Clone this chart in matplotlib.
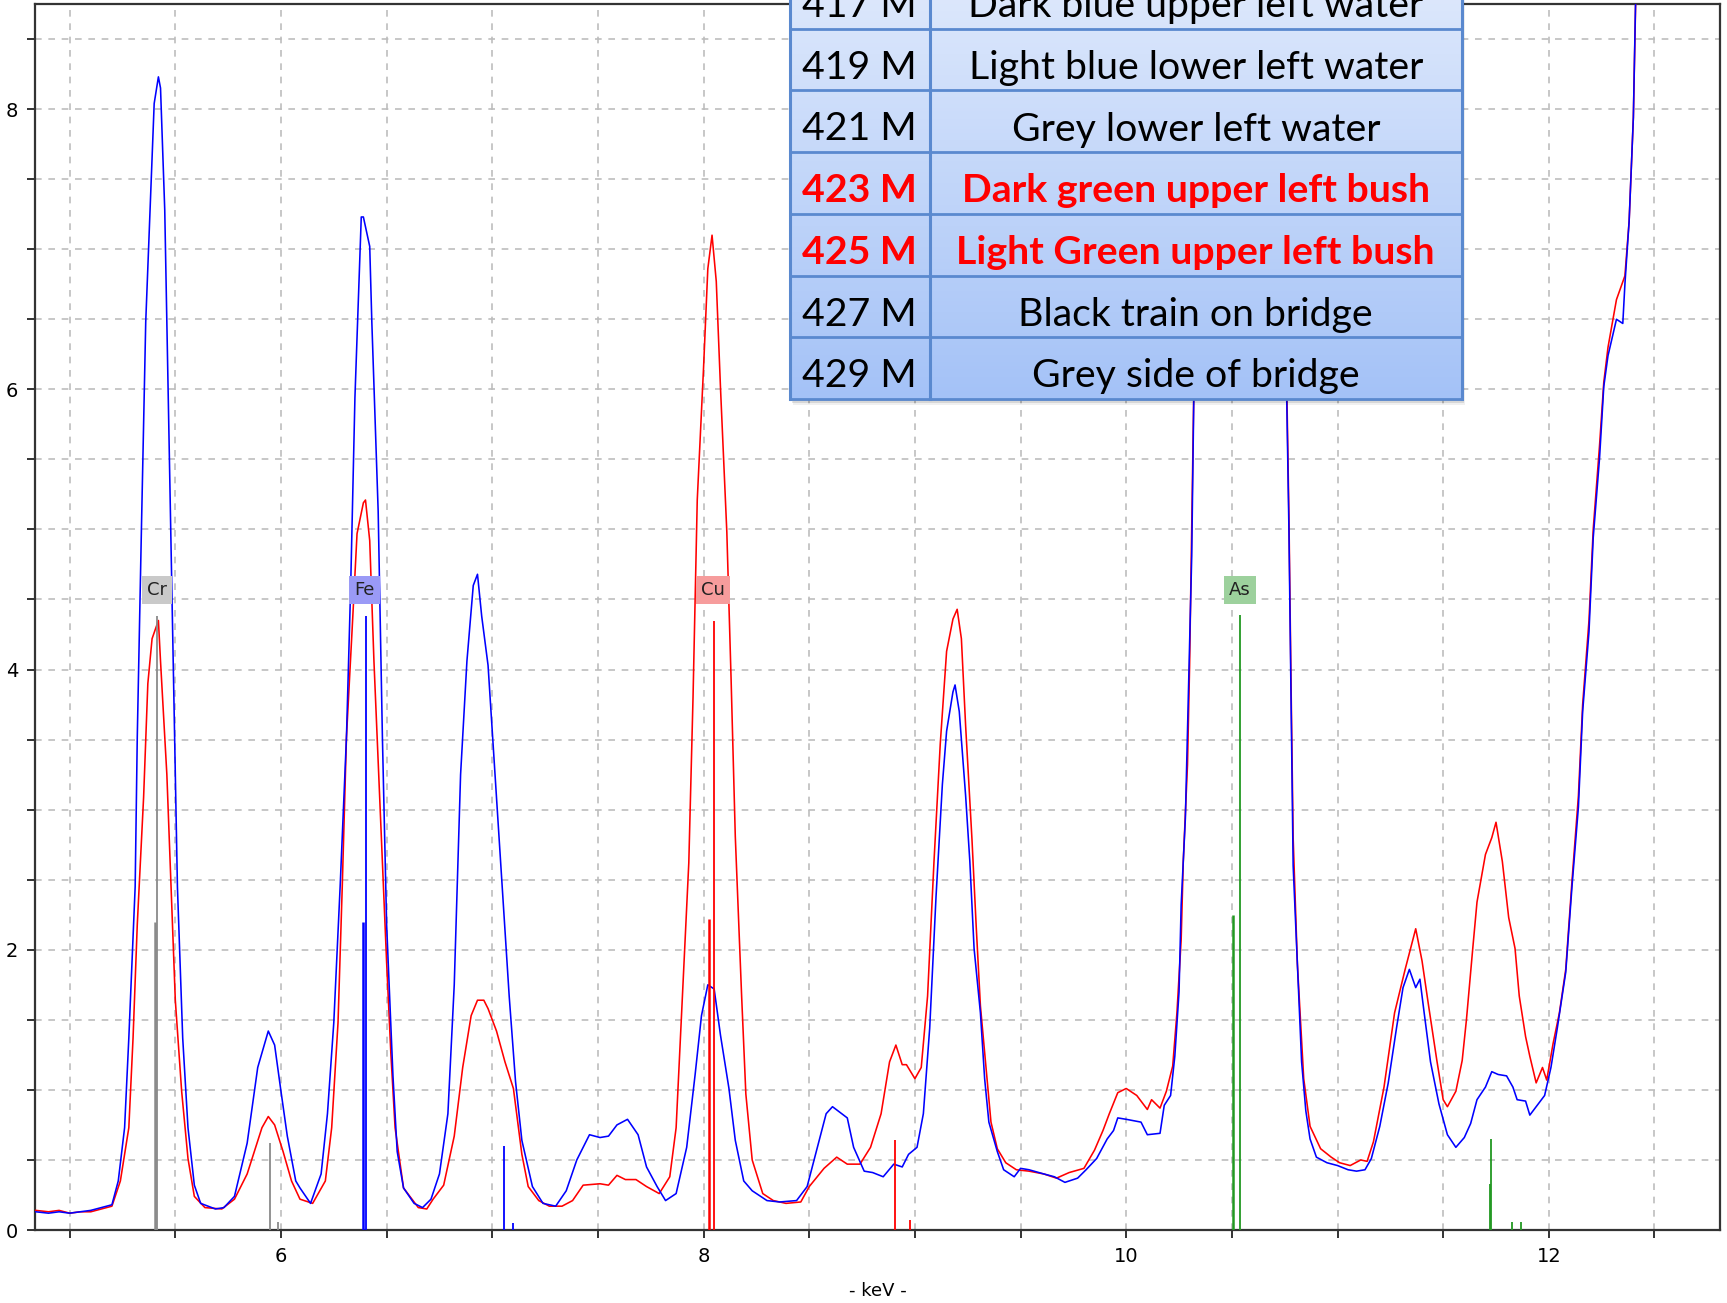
import matplotlib
matplotlib.use('Agg')
import matplotlib.pyplot as plt
import matplotlib.patches as mpatches
from matplotlib.ticker import MultipleLocator
import numpy as np

W, H, DPI = 1727, 1303, 100

# spectrum readings (keV, intensity)
blue_kev = [4.84, 4.90, 4.95, 5.00, 5.05, 5.10, 5.15, 5.20, 5.23, 5.26, 5.28, 5.31, 5.32, 5.34,
            5.36, 5.39, 5.40, 5.42, 5.43, 5.45, 5.47, 5.49, 5.51, 5.535, 5.56, 5.59, 5.62, 5.69,
            5.73, 5.78, 5.84, 5.89, 5.94, 5.97, 6.00, 6.03, 6.07, 6.09, 6.14, 6.19, 6.22, 6.25,
            6.28, 6.31, 6.33, 6.35, 6.38, 6.39, 6.42, 6.43, 6.46, 6.48, 6.50, 6.53, 6.55, 6.58,
            6.63, 6.67, 6.71, 6.75, 6.79, 6.82, 6.85, 6.88, 6.91, 6.93, 6.95, 6.98, 7.02, 7.05,
            7.08, 7.11, 7.14, 7.19, 7.24, 7.30, 7.35, 7.40, 7.46, 7.51, 7.55, 7.59, 7.64, 7.69,
            7.73, 7.78, 7.82, 7.87, 7.92, 7.96, 7.99, 8.02, 8.05, 8.08, 8.12, 8.15, 8.19, 8.23,
            8.30, 8.36, 8.44, 8.49, 8.53, 8.58, 8.61, 8.68, 8.71, 8.76, 8.80, 8.85, 8.90, 8.94,
            8.97, 9.01, 9.04, 9.07, 9.10, 9.13, 9.15, 9.18, 9.19, 9.21, 9.24, 9.26, 9.28, 9.31,
            9.33, 9.35, 9.39, 9.42, 9.47, 9.50, 9.54, 9.61, 9.66, 9.71, 9.77, 9.81, 9.86, 9.91,
            9.94, 9.96, 10.00, 10.07, 10.10, 10.16, 10.18, 10.21, 10.23, 10.25, 10.26, 10.28,
            10.29, 10.30, 10.31, 10.32, 10.34, 10.37, 10.41, 10.46, 10.52, 10.58, 10.64, 10.70,
            10.74, 10.76, 10.77, 10.78, 10.79, 10.81, 10.83, 10.85, 10.87, 10.90, 10.95, 11.00,
            11.05, 11.09, 11.13, 11.16, 11.20, 11.24, 11.28, 11.31, 11.34, 11.37, 11.39, 11.41,
            11.44, 11.48, 11.52, 11.56, 11.60, 11.63, 11.66, 11.70, 11.73, 11.76, 11.80, 11.83,
            11.85, 11.89, 11.91, 11.94, 11.98, 12.01, 12.04, 12.08, 12.11, 12.14, 12.16, 12.19,
            12.21, 12.24, 12.26, 12.28, 12.32, 12.35, 12.36, 12.38, 12.40, 12.41, 12.43, 12.50,
            12.60, 12.82]
blue_cts = [0.13, 0.12, 0.13, 0.12, 0.13, 0.14, 0.16, 0.18, 0.35, 0.73, 1.37, 2.45, 3.52, 5.03,
            6.48, 7.66, 8.04, 8.23, 8.15, 7.28, 5.67, 4.06, 2.45, 1.37, 0.73, 0.32, 0.19, 0.15,
            0.16, 0.24, 0.62, 1.16, 1.42, 1.32, 0.99, 0.67, 0.35, 0.30, 0.19, 0.40, 0.83, 1.48,
            2.45, 3.52, 4.60, 5.94, 7.23, 7.23, 7.02, 6.48, 5.13, 3.52, 2.18, 1.10, 0.56, 0.30,
            0.19, 0.16, 0.22, 0.40, 0.83, 1.75, 3.25, 4.06, 4.60, 4.68, 4.38, 4.03, 3.09, 2.38,
            1.67, 1.06, 0.64, 0.31, 0.19, 0.17, 0.28, 0.50, 0.68, 0.66, 0.67, 0.75, 0.79, 0.68,
            0.45, 0.31, 0.21, 0.26, 0.59, 1.11, 1.53, 1.75, 1.72, 1.39, 1.01, 0.64, 0.35, 0.28,
            0.21, 0.20, 0.21, 0.31, 0.54, 0.83, 0.88, 0.80, 0.59, 0.42, 0.41, 0.38, 0.47, 0.45,
            0.54, 0.59, 0.83, 1.44, 2.38, 3.18, 3.56, 3.84, 3.89, 3.70, 3.10, 2.63, 2.01, 1.55,
            1.08, 0.77, 0.56, 0.43, 0.38, 0.44, 0.43, 0.40, 0.38, 0.34, 0.37, 0.43, 0.51, 0.65,
            0.71, 0.80, 0.79, 0.77, 0.68, 0.69, 0.89, 0.96, 1.24, 1.70, 2.32, 2.94,
            3.57, 4.19, 4.81, 5.96, 7.0, 8.7, 10.5, 12.0, 12.8, 12.6, 11.5, 9.5,
            7.2, 5.9, 5.0, 3.8, 2.6, 1.9, 1.2, 0.85, 0.65, 0.52, 0.48, 0.46,
            0.43, 0.42, 0.43, 0.51, 0.74, 1.05, 1.45, 1.73, 1.86, 1.73, 1.79, 1.55,
            1.20, 0.90, 0.68, 0.59, 0.66, 0.76, 0.93, 1.02, 1.13, 1.11, 1.10, 1.02,
            0.93, 0.92, 0.82, 0.88, 0.96, 1.16, 1.44, 1.84, 2.46, 3.02, 3.70, 4.27,
            4.94, 5.51, 6.02, 6.24, 6.50, 6.47, 6.75, 7.20, 7.94, 8.73, 9.6, 12.0,
            13.0, 13.0]

red_kev = [4.84, 4.90, 4.95, 5.00, 5.05, 5.10, 5.15, 5.20, 5.24, 5.28, 5.30, 5.32, 5.35, 5.37,
           5.39, 5.42, 5.43, 5.46, 5.48, 5.50, 5.53, 5.56, 5.59, 5.64, 5.72, 5.78, 5.84, 5.91,
           5.94, 5.97, 6.01, 6.05, 6.09, 6.15, 6.21, 6.24, 6.27, 6.29, 6.31, 6.34, 6.36, 6.39,
           6.40, 6.42, 6.44, 6.47, 6.50, 6.52, 6.54, 6.58, 6.65, 6.69, 6.72, 6.77, 6.82, 6.86,
           6.90, 6.93, 6.96, 6.98, 7.02, 7.06, 7.10, 7.14, 7.17, 7.22, 7.27, 7.33, 7.38, 7.43,
           7.51, 7.55, 7.59, 7.63, 7.68, 7.73, 7.79, 7.84, 7.87, 7.90, 7.93, 7.95, 7.97, 8.00,
           8.02, 8.04, 8.06, 8.08, 8.11, 8.13, 8.15, 8.18, 8.20, 8.23, 8.28, 8.33, 8.39, 8.46,
           8.50, 8.57, 8.63, 8.68, 8.74, 8.79, 8.84, 8.88, 8.91, 8.94, 8.96, 9.00, 9.03, 9.06,
           9.09, 9.12, 9.15, 9.18, 9.20, 9.22, 9.24, 9.27, 9.29, 9.31, 9.34, 9.36, 9.39, 9.43,
           9.48, 9.54, 9.61, 9.67, 9.73, 9.80, 9.85, 9.89, 9.92, 9.96, 10.00, 10.05, 10.10,
           10.12, 10.16, 10.19, 10.22, 10.24, 10.26, 10.27, 10.29, 10.30, 10.31, 10.32, 10.34,
           10.37, 10.41, 10.46, 10.52, 10.58, 10.64, 10.70, 10.74, 10.76, 10.77, 10.78, 10.79,
           10.81, 10.84, 10.87, 10.92, 10.97, 11.01, 11.06, 11.11, 11.14, 11.17, 11.22, 11.27,
           11.32, 11.37, 11.40, 11.43, 11.47, 11.50, 11.52, 11.56, 11.59, 11.61, 11.64, 11.66,
           11.70, 11.73, 11.75, 11.78, 11.81, 11.84, 11.86, 11.89, 11.91, 11.94, 11.97, 11.99,
           12.02, 12.05, 12.08, 12.11, 12.14, 12.16, 12.19, 12.21, 12.24, 12.26, 12.28, 12.32,
           12.36, 12.38, 12.40, 12.41, 12.43, 12.50, 12.60, 12.82]
red_cts = [0.14, 0.13, 0.14, 0.12, 0.13, 0.13, 0.15, 0.17, 0.35, 0.73, 1.37, 2.18, 3.09, 3.90,
           4.22, 4.35, 4.06, 3.25, 2.45, 1.64, 0.99, 0.51, 0.24, 0.16, 0.15, 0.22, 0.40, 0.73,
           0.81, 0.75, 0.56, 0.35, 0.22, 0.19, 0.35, 0.73, 1.48, 2.45, 3.52, 4.38, 4.97, 5.19,
           5.21, 4.92, 4.06, 2.98, 1.91, 1.26, 0.73, 0.30, 0.16, 0.15, 0.22, 0.32, 0.67, 1.16,
           1.53, 1.64, 1.64, 1.58, 1.42, 1.20, 1.01, 0.54, 0.31, 0.21, 0.17, 0.17, 0.21, 0.32,
           0.33, 0.32, 0.39, 0.36, 0.36, 0.31, 0.26, 0.38, 0.73, 1.67, 2.62, 3.80, 5.21, 6.16,
           6.86, 7.10, 6.77, 6.01, 4.98, 3.94, 2.81, 1.67, 0.97, 0.50, 0.26, 0.21, 0.19, 0.20,
           0.31, 0.44, 0.52, 0.47, 0.47, 0.59, 0.83, 1.20, 1.32, 1.18, 1.18, 1.08, 1.16, 1.67,
           2.62, 3.47, 4.13, 4.36, 4.43, 4.22, 3.60, 2.79, 2.17, 1.60, 1.10, 0.77, 0.58, 0.48,
           0.43, 0.42, 0.40, 0.37, 0.41, 0.44, 0.57, 0.71, 0.83, 0.98, 1.01, 0.96, 0.86,
           0.93, 0.87, 0.99, 1.17, 1.55, 2.07, 2.63, 3.32, 4.03, 5.0, 6.0, 7.1,
           8.8, 10.6, 12.1, 12.9, 12.7, 11.6, 9.6, 7.3, 6.0, 5.1, 3.9, 2.8,
           1.9, 1.08, 0.74, 0.58, 0.52, 0.48, 0.46, 0.50, 0.49, 0.63, 1.02, 1.55,
           1.86, 2.15, 1.92, 1.61, 1.21, 0.93, 0.88, 0.99, 1.21, 1.50, 2.01, 2.34,
           2.68, 2.80, 2.91, 2.63, 2.23, 2.01, 1.67, 1.38, 1.24, 1.05, 1.16, 1.07,
           1.33, 1.55, 1.86, 2.50, 3.10, 3.75, 4.35, 5.0, 5.6, 6.05, 6.30, 6.64,
           6.81, 7.20, 7.94, 8.73, 9.7, 12.0, 13.0, 13.0]

# element KLM markers
elements = ['Cr', 'Fe', 'Cu', 'As']
element_label_kev = [5.415, 6.395, 8.045, 10.538]
element_line_kev = [[5.405, 5.415, 5.947, 5.985],
                    [6.390, 6.403, 7.057, 7.100],
                    [8.027, 8.047, 8.905, 8.977],
                    [10.507, 10.540, 11.720, 11.728, 11.826, 11.866]]
element_line_height = [[2.20, 4.38, 0.62, 0.06],
                       [2.20, 4.38, 0.60, 0.05],
                       [2.22, 4.35, 0.64, 0.07],
                       [2.25, 4.39, 0.33, 0.65, 0.06, 0.06]]
element_colors = ['#8a8a8a', '#0000ff', '#ff0000', '#229922']
element_box_colors = ['#c9c9c9', '#9a9af6', '#f69c9c', '#9dd19d']

# sample table overlay
sample_ids = ['417 M', '419 M', '421 M', '423 M', '425 M', '427 M', '429 M']
sample_desc = ['Dark blue upper left water', 'Light blue lower left water',
               'Grey lower left water', 'Dark green upper left bush',
               'Light Green upper left bush', 'Black train on bridge',
               'Grey side of bridge']
sample_highlight = [False, False, False, True, True, False, False]

tick_font = ['Liberation Sans Narrow', 'DejaVu Sans']

fig = plt.figure(figsize=(W / DPI, H / DPI), dpi=DPI)
fig.patch.set_facecolor('white')
ax = fig.add_axes([35 / W, 1 - 1230 / H, (1720 - 35) / W, (1230 - 4) / H])

ax.plot(red_kev, red_cts, color='#ff0000', linewidth=1.15, zorder=3)
ax.plot(blue_kev, blue_cts, color='#0000ff', linewidth=1.15, zorder=4)

for name, lk, xs, hs, c, bc in zip(elements, element_label_kev, element_line_kev,
                                   element_line_height, element_colors, element_box_colors):
    for i, (x, h) in enumerate(zip(xs, hs)):
        ax.vlines(x, 0, h, color=c, linewidth=1.8 if i == 0 else 1.3, zorder=5)
    ax.text(lk, 4.57, name, ha='center', va='center', fontsize=13, family=tick_font,
            color='#222222', zorder=6,
            bbox=dict(boxstyle='square,pad=0.28', fc=bc, ec='none'))

ax.set_xlim(4.836, 12.81)
ax.set_ylim(0, 8.75)
ax.xaxis.set_major_locator(MultipleLocator(2))
ax.xaxis.set_minor_locator(MultipleLocator(0.5))
ax.yaxis.set_major_locator(MultipleLocator(2))
ax.yaxis.set_minor_locator(MultipleLocator(0.5))
ax.grid(True, which='both', color='#bdbdbd', linestyle=(0, (4, 4)), linewidth=1.2, zorder=0)
ax.set_axisbelow(True)
ax.tick_params(which='both', direction='out', length=6, width=1.4, color='#333333',
               labelsize=14, pad=6)
for lbl in ax.get_xticklabels() + ax.get_yticklabels():
    lbl.set_family(tick_font)
for s in ax.spines.values():
    s.set_color('#333333')
    s.set_linewidth(1.6)
ax.set_xlabel('- keV -', fontsize=13, family=tick_font, labelpad=12)

# table overlay, drawn in figure pixel coordinates
tx0, tx1, tcol = 790, 1462, 929.6
row_h = 61.7
t_bot = 399
t_top = t_bot - row_h * len(sample_ids)
tab = fig.add_axes([780 / W, 1 - 412 / H, 700 / W, 412 / H], zorder=10)
tab.axis('off')
for off, a in [(6, 0.06), (4, 0.10), (2, 0.16)]:
    tab.add_patch(mpatches.Rectangle((tx0 + off * 0.5, t_top + off), tx1 - tx0, t_bot - t_top,
                                     fc='black', ec='none', alpha=a))
grad = np.linspace(0, 1, 256)[:, None]
top_c = np.array([224, 234, 252]) / 255
bot_c = np.array([164, 194, 247]) / 255
img = top_c[None, None, :] * (1 - grad[:, :, None]) + bot_c[None, None, :] * grad[:, :, None]
tab.imshow(img, extent=(tx0, tx1, t_bot, t_top), aspect='auto', origin='upper', zorder=1)
border = '#5a89cf'
for i in range(len(sample_ids) + 1):
    tab.plot([tx0, tx1], [t_top + i * row_h] * 2, color=border, linewidth=2, zorder=2)
for x in (tx0, tcol, tx1):
    tab.plot([x, x], [t_top, t_bot], color=border, linewidth=2.2, zorder=2)
for i, (sid, desc, hl) in enumerate(zip(sample_ids, sample_desc, sample_highlight)):
    yb = t_top + i * row_h + 50
    kw = dict(fontsize=28.3, family='Lato', va='baseline', ha='center', zorder=3,
              color='#ff0000' if hl else 'black', fontweight='bold' if hl else 'normal')
    tab.text((tx0 + tcol) / 2, yb, sid, **kw)
    tab.text((tcol + tx1) / 2, yb, desc, **kw)
tab.set_xlim(780, 1480)
tab.set_ylim(412, 0)

fig.savefig('out.png', dpi=DPI)
